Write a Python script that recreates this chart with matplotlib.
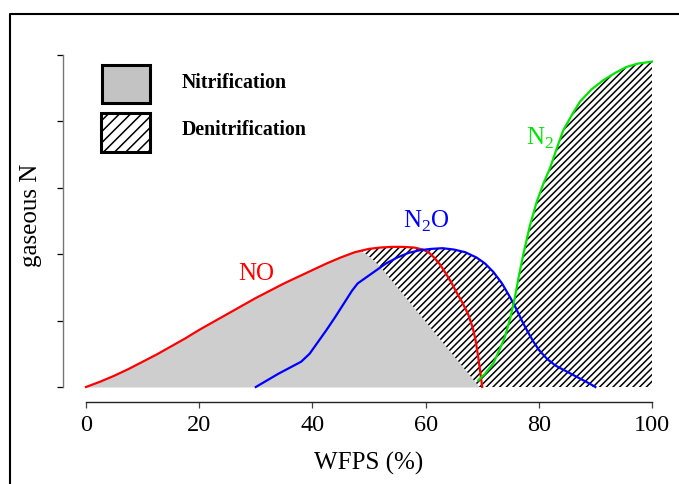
import numpy as np
import matplotlib
matplotlib.use("Agg")
import matplotlib.pyplot as plt
from matplotlib.patches import Rectangle
from matplotlib.lines import Line2D

# ============================================================
# DADOS (WFPS x N gasoso, unidades arbitrarias)
# ============================================================

no_x = [0, 2.5, 5, 7.5, 10, 12.5, 15, 17.5, 20, 22.5, 25, 27.5, 30, 32.5, 35, 37.5, 40, 42.5,
        45, 47.5, 50, 52, 54, 56, 58, 59.5, 60.5, 61.5, 62.5, 63.5, 64.5, 65.5, 66.5, 67.5,
        68.3, 68.8, 69.3, 69.7, 70]
no_y = [0, 0.08, 0.17, 0.27, 0.38, 0.49, 0.61, 0.73, 0.86, 0.98, 1.1, 1.22, 1.34, 1.45, 1.56,
        1.66, 1.76, 1.86, 1.95, 2.03, 2.08, 2.1, 2.11, 2.11, 2.1, 2.07, 2.03, 1.95, 1.85, 1.72,
        1.58, 1.42, 1.27, 1.1, 0.9, 0.72, 0.45, 0.2, 0]

n2o_x = [30, 32, 34, 36, 38, 39.5, 41, 42.5, 44, 45.5, 47, 48, 49.5, 51, 53, 55, 57, 59, 61, 63,
         65, 67, 69, 70.5, 72, 73.5, 75, 76, 77, 78, 79, 80, 81.5, 83, 85, 87, 89, 90]
n2o_y = [0, 0.1, 0.2, 0.29, 0.38, 0.5, 0.68, 0.86, 1.05, 1.25, 1.45, 1.56, 1.65, 1.74, 1.86,
         1.95, 2.02, 2.06, 2.08, 2.09, 2.07, 2.03, 1.95, 1.86, 1.73, 1.56, 1.34, 1.18, 1.0, 0.84,
         0.69, 0.56, 0.42, 0.32, 0.23, 0.14, 0.05, 0]

n2_x = [69.3, 70.5, 72, 73, 74, 75, 75.8, 76.5, 77.3, 78.4, 79.6, 80.8, 82, 83, 84.3, 86, 87.3,
        89.3, 91.4, 93.5, 95.5, 97.5, 100]
n2_y = [0.1, 0.2, 0.36, 0.55, 0.75, 1.05, 1.36, 1.68, 2.01, 2.42, 2.78, 3.06, 3.3, 3.55, 3.86,
        4.12, 4.3, 4.48, 4.62, 4.73, 4.82, 4.87, 4.9]

# area de nitrificacao (cinza)
nit_x = [0, 2.5, 5, 7.5, 10, 12.5, 15, 17.5, 20, 22.5, 25, 27.5, 30, 32.5, 35, 37.5, 40, 42.5,
         45, 47, 48.4, 49.5, 50.8, 52.5, 69.5]
nit_y = [0, 0.08, 0.17, 0.27, 0.38, 0.49, 0.61, 0.73, 0.86, 0.98, 1.1, 1.22, 1.34, 1.45, 1.56,
         1.66, 1.76, 1.87, 1.97, 2.04, 2.05, 2.0, 1.91, 1.76, 0]

# area de desnitrificacao (hachurada) - contorno do poligono
den_x = [48.4, 50, 52, 54, 56, 58, 59.5, 61, 63, 65, 67, 69, 70.5, 72, 73.5, 75, 75.6,
         76.5, 77.3, 78.4, 79.6, 80.8, 82, 83, 84.3, 86, 87.3, 89.3, 91.4, 93.5, 95.5, 97.5, 100,
         100, 69.5, 52.5, 50.8, 49.5]
den_y = [2.06, 2.08, 2.1, 2.11, 2.11, 2.1, 2.07, 2.08, 2.09, 2.07, 2.03, 1.95, 1.86, 1.73, 1.56,
         1.34, 1.3, 1.68, 2.01, 2.42, 2.78, 3.06, 3.3, 3.55, 3.86, 4.12, 4.3, 4.48, 4.62, 4.73,
         4.82, 4.87, 4.9, 0, 0, 1.76, 1.91, 2.0]

x_ticks = [0, 20, 40, 60, 80, 100]
y_ticks = [0, 1, 2, 3, 4, 5]

# ============================================================
# GRAFICO
# ============================================================

plt.rcParams["font.family"] = ["Liberation Serif", "DejaVu Serif"]
plt.rcParams["mathtext.fontset"] = "custom"
plt.rcParams["mathtext.rm"] = "Liberation Serif"
plt.rcParams["hatch.linewidth"] = 1.1

W, H = 679, 484
fig = plt.figure(figsize=(W / 100, H / 100), dpi=100)
ax = fig.add_axes([63.4 / W, 1 - 402 / H, 611.2 / W, (402 - 41.7) / H])
ax.set_xlim(-4, 104)
ax.set_ylim(-0.226, 5.2)

ax.fill_between(nit_x, 0, nit_y, color="#cecece", linewidth=0, zorder=1)
ax.fill(den_x, den_y, facecolor="none", edgecolor="black", linewidth=0, hatch="/////", zorder=1)

ax.plot(no_x, no_y, color="red", lw=1.6, zorder=3)
ax.plot(n2o_x, n2o_y, color="blue", lw=1.6, zorder=3)
ax.plot(n2_x, n2_y, color="#00e600", lw=1.6, zorder=3)

ax.text(26.9, 1.61, "NO", color="red", fontsize=18, ha="left", va="baseline")
ax.text(56.0, 2.39, r"N$_2$O", color="blue", fontsize=18, ha="left", va="baseline")
ax.text(77.7, 3.64, r"N$_2$", color="#00e600", fontsize=18, ha="left", va="baseline")

for s in ["top", "right"]:
    ax.spines[s].set_visible(False)
ax.spines["left"].set_bounds(0, 5)
ax.spines["bottom"].set_bounds(0, 100)
ax.spines["left"].set_color("#777777")
ax.spines["bottom"].set_color("#222222")
ax.spines["left"].set_linewidth(1.0)
ax.spines["bottom"].set_linewidth(1.0)

ax.set_xticks(x_ticks)
ax.set_yticks(y_ticks)
ax.set_yticklabels([])
ax.tick_params(axis="x", length=4.5, width=0.9, labelsize=17.5, pad=5, color="#444444")
ax.tick_params(axis="y", length=4.5, width=0.9, color="black")
ax.patch.set_visible(False)

fig.text(369 / W, 1 - 463 / H, "WFPS (%)", fontsize=18, ha="center", va="center")
fig.text(31 / W, 1 - 215 / H, "gaseous N", fontsize=18, ha="center", va="center", rotation=90)

# legenda manual
fig.add_artist(Rectangle((101.7 / W, 1 - 103 / H), 48.3 / W, 38 / H, transform=fig.transFigure,
                         facecolor="#c3c3c3", edgecolor="black", linewidth=2.2))
fig.add_artist(Rectangle((100.7 / W, 1 - 151.7 / H), 49.3 / W, 38.4 / H, transform=fig.transFigure,
                         facecolor="white", edgecolor="black", linewidth=2.2, hatch="///"))
fig.text(182 / W, 1 - 83 / H, "Nitrification", fontsize=14.3, fontweight="bold", ha="left", va="center")
fig.text(182 / W, 1 - 130 / H, "Denitrification", fontsize=14.3, fontweight="bold", ha="left", va="center")

# moldura externa
fig.add_artist(Line2D([9.5 / W, 9.5 / W, 1.0], [0, 1 - 13.5 / H, 1 - 13.5 / H],
                      transform=fig.transFigure, color="black", lw=1.5))

fig.savefig("out.png", dpi=100)
